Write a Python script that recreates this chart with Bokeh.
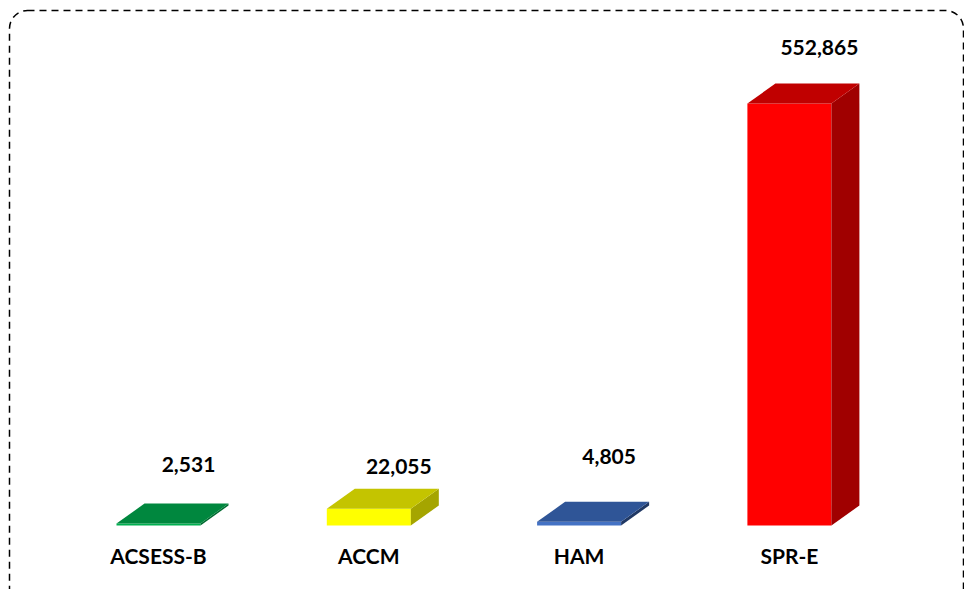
from bokeh.plotting import figure
from bokeh.models import Range1d, BoxAnnotation, ColumnDataSource
from bokeh.core.properties import value
from bokeh.embed import file_html
from bokeh.resources import INLINE

# ---- data ----
categories = ["ACSESS-B", "ACCM", "HAM", "SPR-E"]
values = [2531, 22055, 4805, 552865]
value_labels = ["2,531", "22,055", "4,805", "552,865"]
front_colors = ["#00B050", "#FFFF00", "#4472C4", "#FF0000"]
top_colors = ["#00873E", "#C4C400", "#2F5597", "#C00000"]
side_colors = ["#006B30", "#A5A500", "#203864", "#A00000"]
label_lift_px = [59, 42, 65, 56]

W, H = 964, 589
px_per_cat = 210.3
x0_px = 158.0
base_px = 525.0          # canvas y of baseline
top_px = 103.0           # canvas y of max bar
k = values[3] / (base_px - top_px)   # data units per pixel (y)

x_start = -x0_px / px_per_cat
x_end = (W - x0_px) / px_per_cat
y_start = -(H - base_px) * k
y_end = base_px * k

p = figure(width=W, height=H, output_backend="svg", toolbar_location=None,
           x_range=Range1d(x_start, x_end), y_range=Range1d(y_start, y_end),
           min_border=0)
p.axis.visible = False
p.grid.visible = False
p.outline_line_color = None
p.background_fill_color = "white"
p.border_fill_color = "white"

half = 42 / px_per_cat
dx = 28 / px_per_cat
dy = 20 * k

xs = list(range(len(categories)))

# front faces
p.quad(left=[x - half for x in xs], right=[x + half for x in xs],
       bottom=[0] * len(xs), top=values, fill_color=front_colors, line_color=None)

# top and side faces
top_x, top_y, side_x, side_y = [], [], [], []
for x, v in zip(xs, values):
    top_x.append([x - half, x + half, x + half + dx, x - half + dx])
    top_y.append([v, v, v + dy, v + dy])
    side_x.append([x + half, x + half + dx, x + half + dx, x + half])
    side_y.append([0, dy, v + dy, v])
p.patches(side_x, side_y, fill_color=side_colors, line_color=None)
p.patches(top_x, top_y, fill_color=top_colors, line_color=None)

# value labels
lab_src = ColumnDataSource(dict(
    x=[x + 30 / px_per_cat for x in xs],
    y=[v + lift * k for v, lift in zip(values, label_lift_px)],
    t=value_labels))
p.text(x="x", y="y", text="t", source=lab_src, text_align="center",
       text_baseline="middle", text_font=value("Lato"), text_font_style="bold",
       text_font_size="21px", text_color="black")

# category labels
cat_src = ColumnDataSource(dict(x=xs, y=[-30 * k] * len(xs), t=categories))
p.text(x="x", y="y", text="t", source=cat_src, text_align="center",
       text_baseline="middle", text_font=value("Lato"), text_font_style="bold",
       text_font_size="21px", text_color="black")

# dashed rounded border
border = BoxAnnotation(left=9, right=963, top=10, bottom=610,
                       left_units="canvas", right_units="canvas",
                       top_units="canvas", bottom_units="canvas",
                       fill_alpha=0, fill_color=None, line_color="black",
                       line_alpha=1.0, line_width=1.5, line_dash="7 5",
                       border_radius=18)
p.add_layout(border)

open("out.html", "w").write(file_html(p, INLINE))
